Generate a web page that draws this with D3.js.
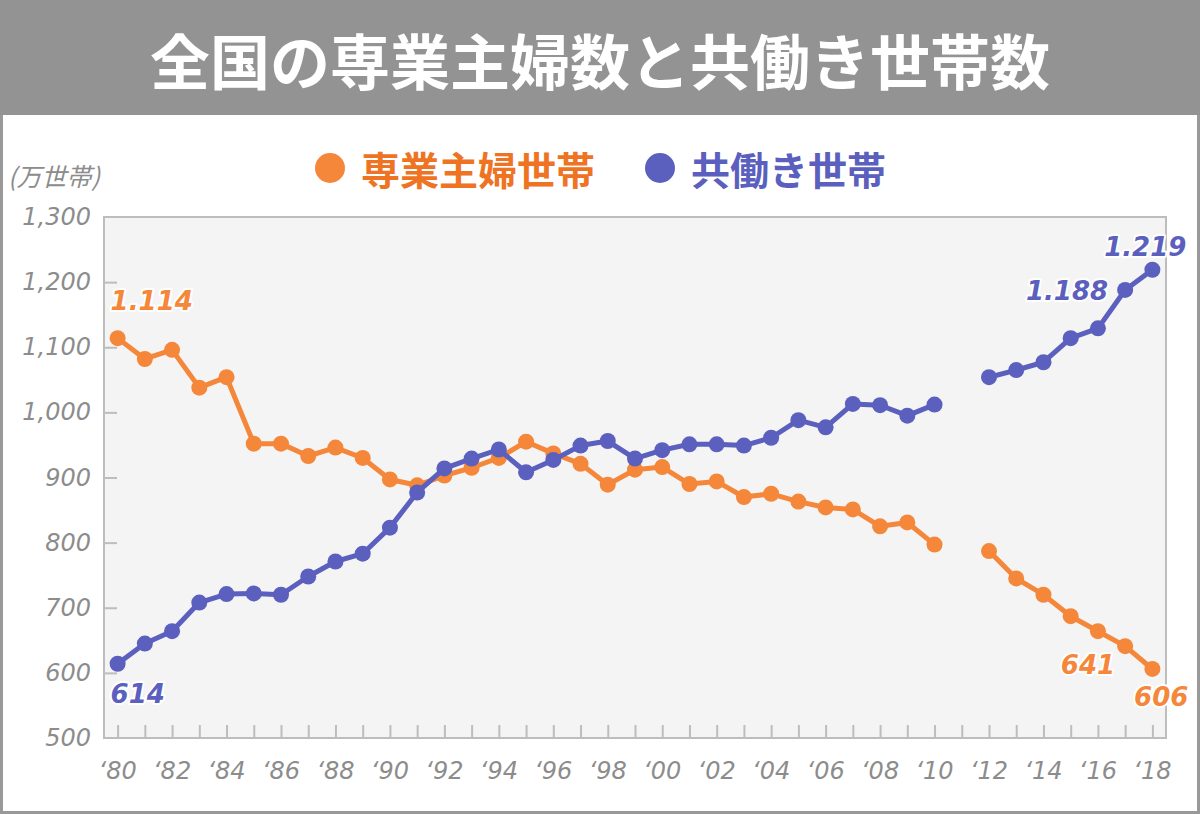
<!DOCTYPE html>
<html lang="ja">
<head>
<meta charset="utf-8">
<title>全国の専業主婦数と共働き世帯数</title>
<script src="https://cdn.jsdelivr.net/npm/d3@7"></script>
<style>
  body { margin: 0; background: #fff; }
  .axis-label { font-family: "DejaVu Sans", sans-serif; font-style: italic; fill: #8c8c8c; font-size: 24px; }
  .cjk { font-family: "Noto Sans CJK JP", sans-serif; }
  .val { font-family: "DejaVu Sans", sans-serif; font-weight: bold; font-style: italic; font-size: 26px;
         stroke: #fff; stroke-width: 4px; paint-order: stroke; stroke-linejoin: round; }
</style>
</head>
<body>
<script>
// years 1980-2018 (2011 has no data)
var years = d3.range(1980, 2019);
var housewife = [1114, 1082, 1096, 1038, 1054, 952, 952, 933, 946, 930,
                 897, 888, 903, 915, 930, 955, 937, 921, 889, 912,
                 916, 890, 894, 870, 875, 863, 854, 851, 825, 831,
                 797, null, 787, 745, 720, 687, 664, 641, 606];
var dualIncome = [614, 645, 664, 708, 721, 722, 720, 748, 771, 783,
                  823, 877, 914, 929, 943, 908, 927, 949, 956, 929,
                  942, 951, 951, 949, 961, 988, 977, 1013, 1011, 995,
                  1012, null, 1054, 1065, 1077, 1114, 1129, 1188, 1219];
var yTicks = [500, 600, 700, 800, 900, 1000, 1100, 1200, 1300];
var xLabelYears = d3.range(1980, 2019, 2);

var orange = "#f5873a";
var blue = "#5b5fbe";

var w = 1200, h = 814;
var pLeft = 104, pRight = 1166, pTop = 217, pBottom = 738;

var svg = d3.select("body").append("svg")
  .attr("width", w)
  .attr("height", h);

// frame + title bar
svg.append("rect")
  .attr("x", 1.5).attr("y", 1.5).attr("width", w - 3).attr("height", h - 3)
  .attr("fill", "#fff").attr("stroke", "#999").attr("stroke-width", 3);
svg.append("rect")
  .attr("x", 0).attr("y", 0).attr("width", w).attr("height", 115)
  .attr("fill", "#939393");
svg.append("text")
  .attr("class", "cjk")
  .attr("x", w / 2).attr("y", 58)
  .attr("text-anchor", "middle")
  .attr("dominant-baseline", "central")
  .attr("font-size", 60).attr("font-weight", "bold")
  .attr("fill", "#fff")
  .text("全国の専業主婦数と共働き世帯数");

// scales
var x = d3.scalePoint().domain(years).range([pLeft, pRight]).padding(0.5);
var y = d3.scaleLinear().domain([500, 1300]).range([pBottom, pTop]);

// plot background
svg.append("rect")
  .attr("x", pLeft).attr("y", pTop)
  .attr("width", pRight - pLeft).attr("height", pBottom - pTop)
  .attr("fill", "#f4f4f4").attr("stroke", "#bdbdbd").attr("stroke-width", 2);

// y axis
var yAxis = svg.append("g")
  .attr("transform", "translate(" + pLeft + ",0)")
  .call(d3.axisRight(y).tickValues(yTicks).tickSize(13).tickFormat(""));
yAxis.select(".domain").remove();
yAxis.selectAll(".tick line").attr("stroke", "#bdbdbd").attr("stroke-width", 2)
  .filter(function (d) { return d === 500 || d === 1300; }).remove();
svg.append("g").selectAll("text")
  .data(yTicks)
  .join("text")
  .attr("class", "axis-label")
  .attr("x", 91)
  .attr("y", function (d) { return y(d) + 8; })
  .attr("text-anchor", "end")
  .text(d3.format(","));

// x axis
var xAxis = svg.append("g")
  .attr("transform", "translate(0," + pBottom + ")")
  .call(d3.axisTop(x).tickSize(13).tickFormat(""));
xAxis.select(".domain").remove();
xAxis.selectAll(".tick line").attr("stroke", "#bdbdbd").attr("stroke-width", 2);
svg.append("g").selectAll("text")
  .data(xLabelYears)
  .join("text")
  .attr("class", "axis-label")
  .attr("x", function (d) { return x(d); })
  .attr("y", 779)
  .attr("text-anchor", "middle")
  .text(function (d) { return "\u2018" + String(d).slice(2); });

// unit
svg.append("text")
  .attr("class", "cjk")
  .attr("x", 8).attr("y", 186)
  .attr("font-size", 25).attr("font-style", "italic")
  .attr("fill", "#8c8c8c")
  .text("(万世帯)");

// legend
var legend = [
  { name: "専業主婦世帯", color: orange, text: "#ee7424", cx: 330 },
  { name: "共働き世帯", color: blue, text: "#5b5fbe", cx: 660 }
];
var lg = svg.append("g").selectAll("g").data(legend).join("g");
lg.append("circle")
  .attr("cx", function (d) { return d.cx; }).attr("cy", 168).attr("r", 15)
  .attr("fill", function (d) { return d.color; });
lg.append("text")
  .attr("class", "cjk")
  .attr("x", function (d) { return d.cx + 31; }).attr("y", 168)
  .attr("dominant-baseline", "central")
  .attr("font-size", 39).attr("font-weight", "bold")
  .attr("fill", function (d) { return d.text; })
  .text(function (d) { return d.name; });

// lines + points
var series = [
  { values: housewife, color: orange },
  { values: dualIncome, color: blue }
];
var line = d3.line()
  .defined(function (d) { return d[1] != null; })
  .x(function (d) { return x(d[0]); })
  .y(function (d) { return y(d[1]); });

series.forEach(function (s) {
  var pts = years.map(function (yr, i) { return [yr, s.values[i]]; });
  svg.append("path")
    .datum(pts)
    .attr("fill", "none")
    .attr("stroke", s.color)
    .attr("stroke-width", 5)
    .attr("stroke-linejoin", "round")
    .attr("d", line);
  svg.append("g").selectAll("circle")
    .data(pts.filter(function (d) { return d[1] != null; }))
    .join("circle")
    .attr("cx", function (d) { return x(d[0]); })
    .attr("cy", function (d) { return y(d[1]); })
    .attr("r", 8)
    .attr("fill", s.color);
});

// value labels
var labels = [
  { s: housewife, year: 1980, text: "1.114", color: orange, anchor: "start", dx: -7, dy: -28 },
  { s: dualIncome, year: 1980, text: "614", color: blue, anchor: "start", dx: -7, dy: 39 },
  { s: dualIncome, year: 2017, text: "1.188", color: blue, anchor: "end", dx: -17, dy: 10 },
  { s: dualIncome, year: 2018, text: "1.219", color: blue, anchor: "end", dx: 34, dy: -14 },
  { s: housewife, year: 2017, text: "641", color: orange, anchor: "end", dx: -10, dy: 28 },
  { s: housewife, year: 2018, text: "606", color: orange, anchor: "end", dx: 36, dy: 37 }
];
svg.append("g").selectAll("text")
  .data(labels)
  .join("text")
  .attr("class", "val")
  .attr("x", function (d) { return x(d.year) + d.dx; })
  .attr("y", function (d) { return y(d.s[years.indexOf(d.year)]) + d.dy; })
  .attr("text-anchor", function (d) { return d.anchor; })
  .attr("fill", function (d) { return d.color; })
  .text(function (d) { return d.text; });
</script>
</body>
</html>
